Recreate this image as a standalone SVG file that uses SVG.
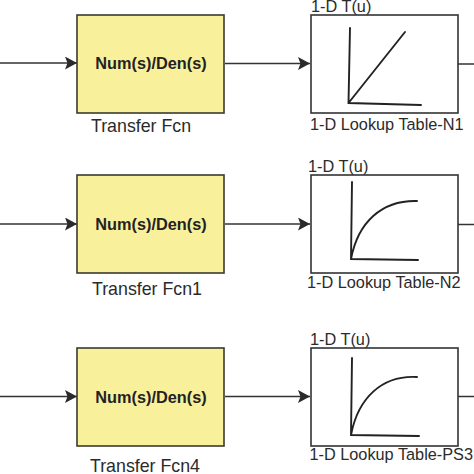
<svg xmlns="http://www.w3.org/2000/svg" width="474" height="474" viewBox="0 0 474 474">
<defs>
<marker id="a" markerUnits="userSpaceOnUse" markerWidth="13" markerHeight="14" refX="12" refY="6.5" orient="auto"><path d="M0 0L12 6.500L0 13L2.500 6.500Z" fill="#2a2a2a"/></marker>
</defs>
<style>
.w{stroke:#333;stroke-width:1.5;fill:none}
.tf{fill:#f9f09c;stroke:#3a3a30;stroke-width:1.6}
.lt{fill:#fff;stroke:#333;stroke-width:1.6}
.c{stroke:#222;stroke-width:1.9;fill:none;stroke-linecap:round}
text{font-family:"Liberation Sans",Arial,sans-serif;fill:#2b2b2b;font-size:16.300px}
.b{font-weight:bold;fill:#222;text-anchor:middle}
.n{font-size:17.800px}
</style>
<rect width="474" height="474" fill="#fff"/>
<g id="connectors">
<path class="w" d="M0 63H77" marker-end="url(#a)"/><path class="w" d="M225 63.500H310" marker-end="url(#a)"/><path class="w" d="M458 64H474"/>
<path class="w" d="M0 224H77" marker-end="url(#a)"/><path class="w" d="M225 224H310" marker-end="url(#a)"/><path class="w" d="M458 224.500H474"/>
<path class="w" d="M0 396.500H77" marker-end="url(#a)"/><path class="w" d="M225 396.500H310" marker-end="url(#a)"/><path class="w" d="M458 396.500H474"/>
</g>
<g id="tf1"><rect class="tf" x="77" y="15" width="147" height="98"/><text class="b" x="151" y="69">Num(s)/Den(s)</text><text class="n" x="91" y="131.500">Transfer Fcn</text></g>
<g id="tf2"><rect class="tf" x="77" y="175" width="147" height="98"/><text class="b" x="151" y="230">Num(s)/Den(s)</text><text class="n" x="92" y="295">Transfer Fcn1</text></g>
<g id="tf3"><rect class="tf" x="77" y="348" width="147" height="98"/><text class="b" x="151" y="403">Num(s)/Den(s)</text><text class="n" x="90" y="472">Transfer Fcn4</text></g>
<g id="lut1"><text x="311" y="12">1-D T(u)</text><rect class="lt" x="311" y="15" width="147" height="98"/><path class="c" d="M350 28L348.500 103L421 105M348.500 103L405 32"/><text x="310" y="130">1-D Lookup Table-N1</text></g>
<g id="lut2"><text x="308" y="171.500">1-D T(u)</text><rect class="lt" x="311" y="175" width="147" height="98"/><path class="c" d="M352 182L351 259L418 260M351 259C358 222 382 200 417 201"/><text x="307" y="288">1-D Lookup Table-N2</text></g>
<g id="lut3"><text x="310" y="345">1-D T(u)</text><rect class="lt" x="311" y="348" width="147" height="98"/><path class="c" d="M352 358L351 435L419 436M351 435C358 398 382 375 417 377"/><text x="309.500" y="460">1-D Lookup Table-PS3</text></g>
</svg>
